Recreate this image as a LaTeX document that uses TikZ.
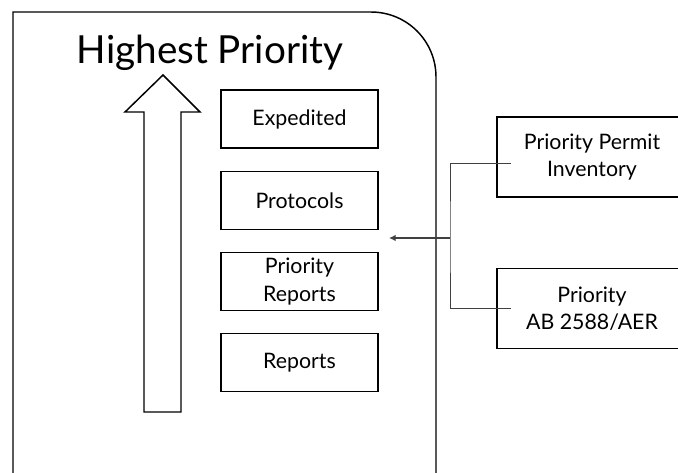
\documentclass[tikz,border=0pt]{standalone}
\usepackage{fontspec}
\setmainfont{Lato}
\usetikzlibrary{arrows.meta}
\tikzset{
  box/.style={draw,line width=1.1pt,minimum width=117.75pt,minimum height=43.5pt,
    align=center,inner sep=0pt,font=\fontsize{16}{20.5}\selectfont},
  sidebox/.style={box,minimum width=142.5pt,minimum height=60pt},
  link/.style={black!75,line width=0.7pt}
}
\begin{document}
\begin{tikzpicture}[x=0.75pt,y=-0.75pt] % pixel grid 678 x 472
  \useasboundingbox (0,0) rectangle (678,472);
  \clip (0,0) rectangle (678,472);
  \draw[line width=1.1pt] (13,490) -- (13,12) -- (371,12)
    .. controls (407,12) and (436,41) .. (436,77) -- (436,490);
  \draw (210,63) node[anchor=base,font=\fontsize{29}{34}\selectfont] {Highest Priority};
  \draw[line width=1.1pt] (144,412) -- (144,112) -- (125,112) -- (163,75)
    -- (200,112) -- (181,112) -- (181,412) -- cycle;
  \node[box] (exp) at (299.5,119) {Expedited};
  \node[box] (prot) at (299.5,200.5) {Protocols};
  \node[box] (prep) at (299.5,281.5) {Priority\\Reports};
  \node[box] (rep) at (299.5,362.5) {Reports};
  \node[sidebox] (ppi) at (592,157) {Priority Permit\\Inventory};
  \node[sidebox] (aer) at (592,308.5) {Priority\\AB 2588/AER};
  \coordinate (join) at (450,238);
  \coordinate (tip) at (389,238);
  \draw[link] ([xshift=11pt,yshift=-4.5pt]ppi.west) -| (join) |- ([xshift=11pt]aer.west);
  \draw[link,line width=1pt,-{Latex[length=5pt,width=5pt]}] (join) -- (tip);
\end{tikzpicture}
\end{document}
